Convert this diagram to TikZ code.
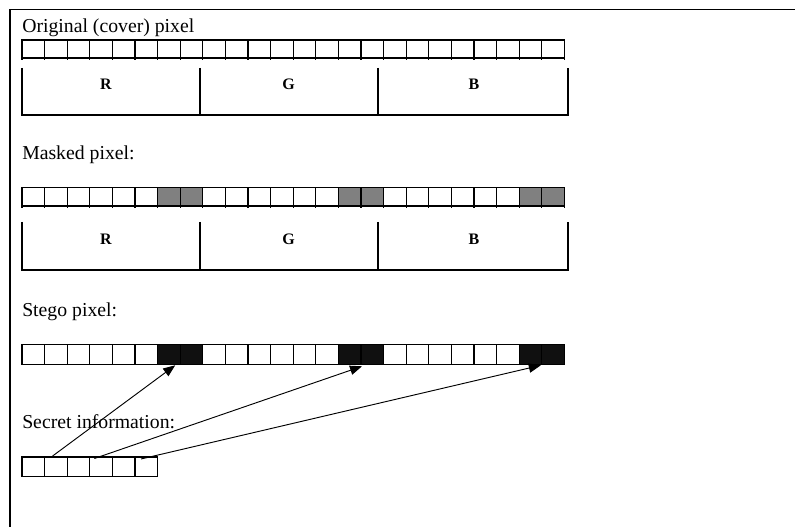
\documentclass[tikz,border=0pt]{standalone}
\usepackage{fontspec}
\setmainfont{Liberation Serif}
\usetikzlibrary{arrows.meta,calc}
\definecolor{maskgray}{RGB}{128,128,128}
\definecolor{stegoblack}{RGB}{16,16,16}
\begin{document}
\begin{tikzpicture}[x=0.75pt,y=-0.75pt,
  rowline/.style={draw=black,line width=1pt},
  cell/.style={rowline,minimum width=16.95pt,inner sep=0pt,outer sep=0pt,anchor=north west},
  caption/.style={anchor=base west,inner sep=0pt,font=\fontsize{14.8pt}{16pt}\selectfont},
  chan/.style={anchor=base,inner sep=0pt,font=\fontsize{12pt}{14pt}\selectfont\bfseries},
  bracket/.style={draw=black,line width=1pt},
  link/.style={draw=black,line width=0.7pt,-{Triangle[length=9pt,width=7pt]}}]
\useasboundingbox (0,0) rectangle (795,527);
\fill[white] (0,0) rectangle (795,527);

% outer frame
\draw[line width=1pt] (10,535) -- (10,9.3) -- (805,9.3);

% ---- Original (cover) pixel ----
\node[caption] (tOrig) at (22,33) {Original (cover) pixel};
\foreach \i in {1,...,24} {
  \pgfmathsetmacro\xx{22+(\i-1)*22.6}
  \node[cell,minimum height=13.5pt,fill=white] (o\i) at (\xx,40) {};
}
\foreach \i in {1,...,24} \draw[rowline] (o\i.south west) -- ++(0,2.5);
\draw[rowline] (o24.south east) -- ++(0,2.5);
\draw[bracket] (22,68) -- (22,115) -- (568,115) -- (568,68);
\draw[bracket] (200,68) -- (200,115);
\draw[bracket] (378,68) -- (378,115);
\node[chan] (oR) at (106,90) {R};
\node[chan] (oG) at (288.5,90) {G};
\node[chan] (oB) at (474,90) {B};

% ---- Masked pixel ----
\node[caption] (tMask) at (22,159.3) {Masked pixel:};
\foreach \i in {1,...,24} {
  \pgfmathsetmacro\xx{22+(\i-1)*22.6}
  \pgfmathtruncatemacro\hi{mod(\i-1,8)>=6 ? 1 : 0}
  \ifnum\hi=1 \def\fc{maskgray}\else\def\fc{white}\fi
  \node[cell,minimum height=14pt,fill=\fc] (m\i) at (\xx,187.3) {};
}
\foreach \i in {1,...,24} \draw[rowline] (m\i.south west) -- ++(0,2.5);
\draw[rowline] (m24.south east) -- ++(0,2.5);
\draw[bracket] (22,222) -- (22,270) -- (568,270) -- (568,222);
\draw[bracket] (200,222) -- (200,270);
\draw[bracket] (378,222) -- (378,270);
\node[chan] (mR) at (106,244.3) {R};
\node[chan] (mG) at (288.5,244.3) {G};
\node[chan] (mB) at (474,244.3) {B};

% ---- Stego pixel ----
\node[caption] (tStego) at (22,316.7) {Stego pixel:};
\foreach \i in {1,...,24} {
  \pgfmathsetmacro\xx{22+(\i-1)*22.6}
  \pgfmathtruncatemacro\hi{mod(\i-1,8)>=6 ? 1 : 0}
  \ifnum\hi=1 \def\fc{stegoblack}\else\def\fc{white}\fi
  \node[cell,minimum height=15pt,fill=\fc] (s\i) at (\xx,344.3) {};
}

% ---- Secret information ----
\node[caption] (tSecret) at (22,428) {Secret information:};
\foreach \i in {1,...,6} {
  \pgfmathsetmacro\xx{22+(\i-1)*22.6}
  \node[cell,minimum height=14.5pt,fill=white] (k\i) at (\xx,457) {};
}

% embedding arrows: secret bits into the stego LSBs
\coordinate (a1) at ($(k2.north west)+(8,-1)$);
\coordinate (a2) at ($(k4.north west)+(4.6,1.5)$);
\coordinate (a3) at ($(k6.north west)+(6,2)$);
\coordinate (t1) at ($(s8.south west)+(-5,1)$);
\coordinate (t2) at ($(s16.south west)+(1,2)$);
\coordinate (t3) at ($(s24.south west)+(-1,1)$);
\draw[link] (a1) -- (t1);
\draw[link] (a2) -- (t2);
\draw[link] (a3) -- (t3);
\end{tikzpicture}
\end{document}
